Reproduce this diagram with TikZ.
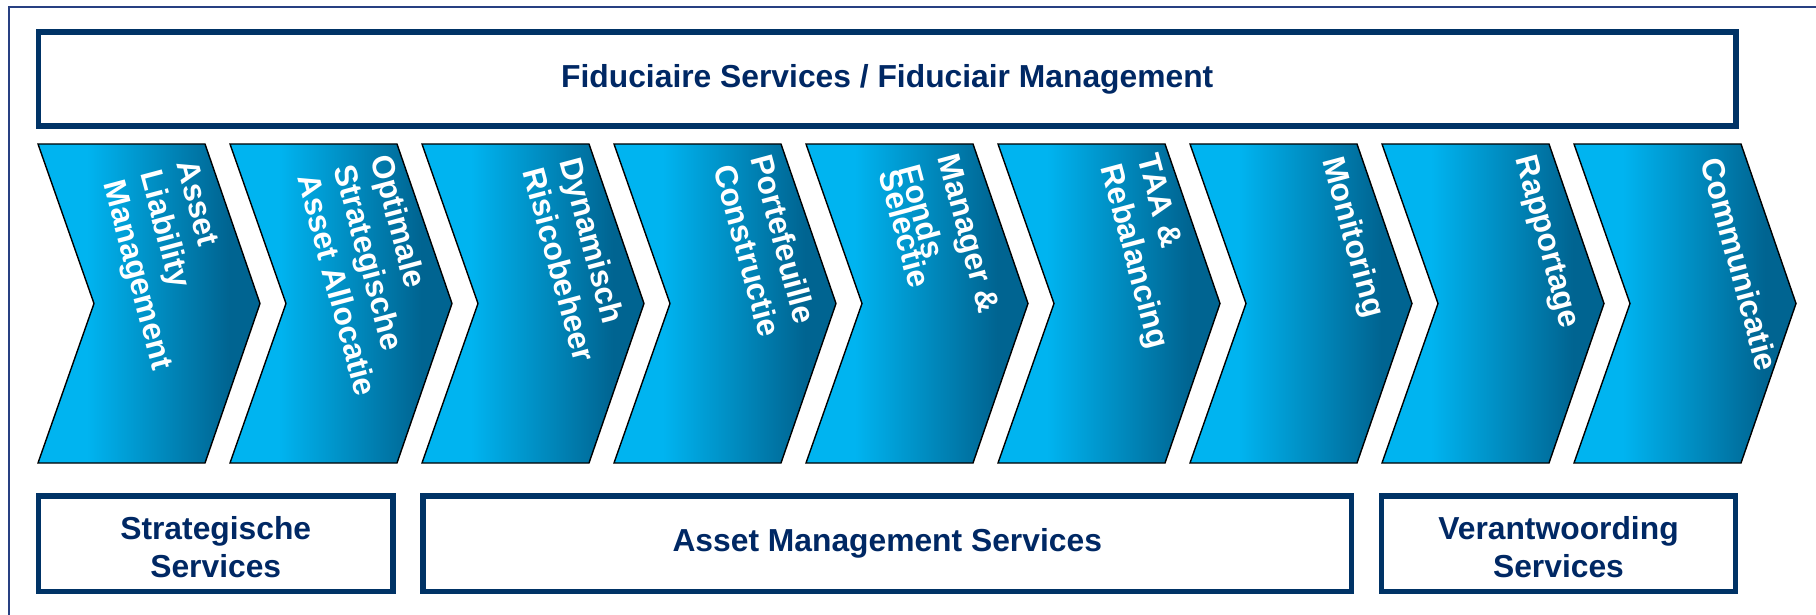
\documentclass[tikz,border=0pt]{standalone}
\usepackage{fontspec}
\setmainfont{Liberation Sans}
\definecolor{navy}{RGB}{0,51,102}
\definecolor{txtnavy}{RGB}{0,40,100}
\definecolor{framecol}{RGB}{40,64,130}
\definecolor{cbright}{RGB}{0,180,240}
\definecolor{cdark}{RGB}{0,100,145}
\pgfdeclarehorizontalshading{chevshade}{100bp}{color(0bp)=(cbright); color(36bp)=(cbright); color(68bp)=(cdark); color(100bp)=(cdark)}
\begin{document}
\begin{tikzpicture}[x=1pt,y=-1pt,
  box/.style={draw=navy, line width=5.7pt, inner sep=0pt},
  lbl/.style={inner sep=0pt, align=center, text=txtnavy,
    font=\bfseries\fontsize{31.8}{38}\selectfont},
  chev/.style={shading=chevshade, draw=black, line width=1.4pt, line join=miter},
  ctext/.style={font=\bfseries\fontsize{31.8}{38}\selectfont, text=white, align=left,
    inner sep=0pt, rotate=-75, anchor=north west}]
\useasboundingbox (0,0) rectangle (1816,615);
\draw[framecol, line width=2pt] (9,7) rectangle (1840,640);
% top box
\node[box, lbl, draw=navy, minimum width=1697.5pt, minimum height=94pt] (top) at (887.25,79)
  {Fiduciaire Services / Fiduciair Management};
% chevrons
\foreach \i in {0,...,8}{
  \shadedraw[chev] ({38+192*\i},144) -- ++(167,0) -- ++(55,159.5) -- ++(-55,159.5)
    -- ++(-167,0) -- ++(56,-159.5) -- cycle;
}
% chevron texts
\node[ctext] (t1) at (198,158) {Asset\\Liability\\Management};
\node[ctext] (t2) at (393,152) {Optimale\\Strategische\\Asset Allocatie};
\node[ctext] (t3) at (582,155) {Dynamisch\\Risicobeheer};
\node[ctext] (t4) at (773,152) {Portefeuille\\Constructie};
\node[ctext] (t5) at (959,152) {Manager \&\\[2pt]Fonds\\[-17pt]Selectie};
\node[ctext] (t6) at (1159,152) {TAA \&\\Rebalancing};
\node[ctext] (t7) at (1345,154) {Monitoring};
\node[ctext] (t8) at (1537,153) {Rapportage};
\node[ctext] (t9) at (1723,155) {Communicatie};
% bottom boxes
\node[box, minimum width=354.5pt, minimum height=95.5pt] (strat) at (215.75,543.75) {};
\node[lbl] (stratl) at ([yshift=-3pt]strat.center) {Strategische\\Services};
\node[box, lbl, minimum width=928.5pt, minimum height=95.5pt] (ams) at (887.25,543.75)
  {Asset Management Services};
\node[box, minimum width=354pt, minimum height=95.5pt] (ver) at (1558.5,543.75) {};
\node[lbl] (verl) at ([yshift=-3pt]ver.center) {Verantwoording\\Services};
\end{tikzpicture}
\end{document}
